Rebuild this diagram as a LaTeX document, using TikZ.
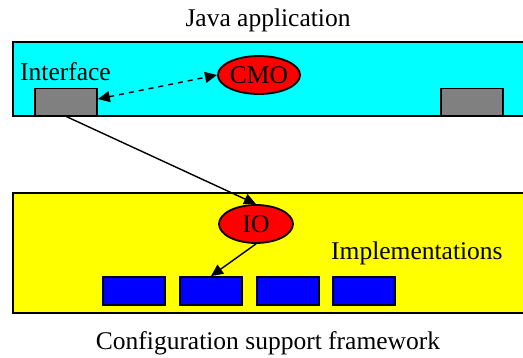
\documentclass[tikz,border=0pt]{standalone}
\usepackage{fontspec}
\setmainfont{Liberation Serif}
\usetikzlibrary{shapes.geometric,arrows.meta}
\definecolor{cyanL}{RGB}{0,255,255}
\definecolor{yellowL}{RGB}{255,255,0}
\definecolor{redL}{RGB}{255,0,0}
\definecolor{blueL}{RGB}{0,0,255}
\definecolor{grayL}{RGB}{128,128,128}
\begin{document}
\begin{tikzpicture}[x=1pt,y=-1pt,
  txt/.style={font=\fontsize{25.5}{30}\selectfont, inner sep=0pt},
  layer/.style={draw=black, line width=1.8pt},
  graybox/.style={draw=black, fill=grayL, line width=1.8pt, minimum width=62pt, minimum height=27pt, inner sep=0pt},
  bluebox/.style={draw=black, fill=blueL, line width=1.8pt, minimum width=62pt, minimum height=28pt, inner sep=0pt},
  obj/.style={ellipse, draw=black, fill=redL, line width=1.8pt, minimum width=74pt, minimum height=38pt, inner sep=0pt, font=\fontsize{25.5}{30}\selectfont},
  conn/.style={line width=1.4pt, -{Triangle[length=12pt,width=11pt]}}
]
\useasboundingbox (0,0) rectangle (523,358);
\clip (0,0) rectangle (523,358);
\fill[white] (0,0) rectangle (523,358);
% top layer
\draw[layer, fill=cyanL] (13,42) rectangle (535,116);
\node[txt] (java) at (268,20) {Java application};
\node[txt, anchor=west] (iface) at (20,72) {Interface};
\node[graybox] (g1) at (66,102) {};
\node[graybox] (g2) at (472,102) {};
\node[obj] (cmo) at (259,75) {CMO};
% bottom layer
\draw[layer, fill=yellowL] (13,193) rectangle (535,313);
\node[obj] (io) at (256,224) {IO};
\node[txt, anchor=west] (impl) at (331,253) {Implementations};
\node[bluebox] (b1) at (134,291) {};
\node[bluebox] (b2) at (211,291) {};
\node[bluebox] (b3) at (288,291) {};
\node[bluebox] (b4) at (364,291) {};
\node[txt] (conf) at (268,343) {Configuration support framework};
% connectors
\draw[line width=1.4pt, dash pattern=on 5pt off 5pt, {Triangle[length=12pt,width=11pt]}-{Triangle[length=12pt,width=11pt]}] (g1.east |- 0,99) -- (cmo.west);
\draw[conn] (g1.south) -- (io.north);
\draw[conn] (io.south) -- (b2.north);
\end{tikzpicture}
\end{document}
